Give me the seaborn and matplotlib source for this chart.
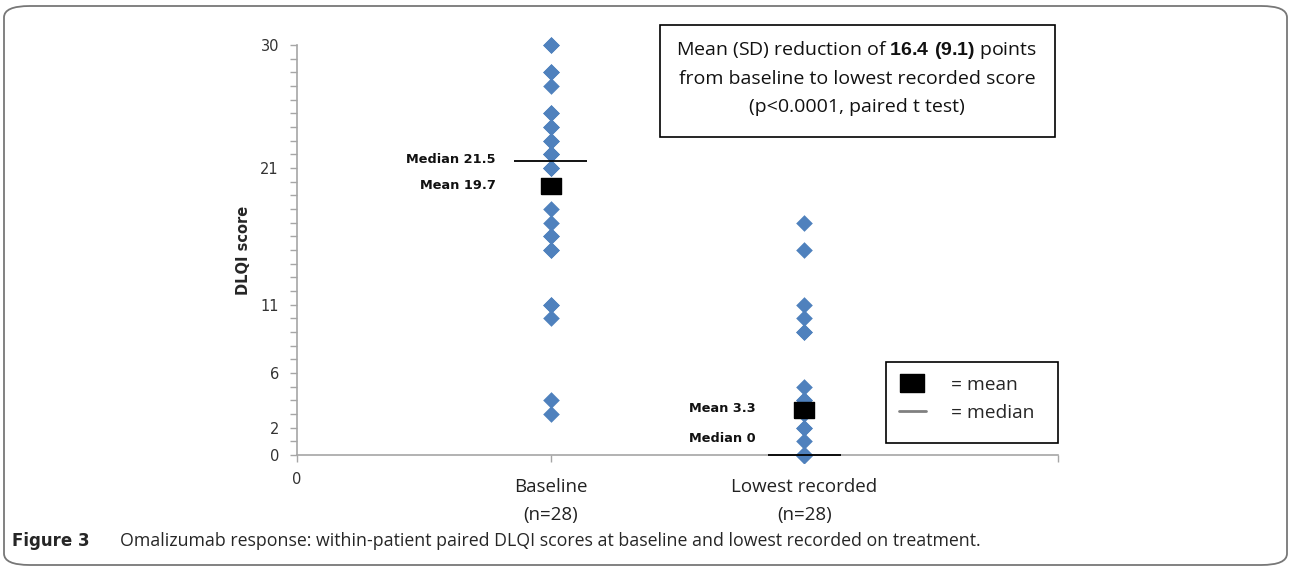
import numpy as np
import pandas as pd
import matplotlib
matplotlib.use("Agg")
import matplotlib.pyplot as plt
import seaborn as sns
from matplotlib.lines import Line2D
from matplotlib.patches import Rectangle, FancyBboxPatch

# datos (28 pacientes por grupo)
grupos = ["Baseline", "Lowest recorded"]
n_por_grupo = [28, 28]
dlqi_baseline = [30, 30, 28, 28, 27, 25, 25, 24, 24, 23, 23, 22, 22, 22,
                 21, 21, 21, 18, 17, 16, 16, 15, 15, 11, 11, 10, 4, 3]
dlqi_lowest = [17, 15, 11, 10, 9, 9, 5, 4, 4, 3, 2, 2, 1,
               0, 0, 0, 0, 0, 0, 0, 0, 0, 0, 0, 0, 0, 0, 0]
yticks_mayores = [0, 2, 6, 11, 21, 30]

df = pd.DataFrame({
    "grupo": ["Baseline"] * len(dlqi_baseline) + ["Lowest recorded"] * len(dlqi_lowest),
    "dlqi": dlqi_baseline + dlqi_lowest,
})
df["pos"] = df["grupo"].map({g: i + 1 for i, g in enumerate(grupos)})
resumen = df.groupby("grupo")["dlqi"].agg(["mean", "median"]).reindex(grupos)
resumen["pos"] = [i + 1 for i in range(len(grupos))]

sns.set_theme(style="white")
plt.rcParams["font.family"] = ["DejaVu Sans"]
plt.rcParams["mathtext.fontset"] = "custom"
plt.rcParams["mathtext.rm"] = "Open Sans"
plt.rcParams["mathtext.bf"] = "Liberation Sans:bold"

W, H = 1290, 570
fig = plt.figure(figsize=(W / 100, H / 100), dpi=100)
ax = fig.add_axes([297 / W, 1 - 455 / H, (1058 - 297) / W, (455 - 45) / H])

gris = "#A6A6A6"
azul = "#4F81BD"
rect_media = [(-1, -0.8), (1, -0.8), (1, 0.8), (-1, 0.8), (-1, -0.8)]

sns.scatterplot(data=df, x="pos", y="dlqi", ax=ax, marker="D", s=72, color=azul,
                edgecolor=azul, linewidth=0, clip_on=False, zorder=3, legend=False)

# medias (cuadrado negro) y medianas (linea)
ax.scatter(resumen["pos"], resumen["mean"], marker=rect_media, s=190, color="black",
           zorder=4, clip_on=False)
ax.hlines(resumen["median"], resumen["pos"] - 0.145, resumen["pos"] + 0.145,
          color="black", linewidth=1.3, zorder=5, clip_on=False)

ax.set_xlim(0, 3)
ax.set_ylim(0, 30)
ax.set_yticks(yticks_mayores)
ax.set_yticks(range(0, 31), minor=True)
ax.set_xticks([0, 1, 2, 3])
ax.set_xticklabels(["0", "", "", ""])
for s in ["top", "right"]:
    ax.spines[s].set_visible(False)
for s in ["left", "bottom"]:
    ax.spines[s].set_color(gris)
    ax.spines[s].set_linewidth(1.2)
ax.tick_params(axis="y", which="both", direction="out", length=5, width=1, color=gris,
               left=True, labelsize=10.5, labelcolor="#333333", pad=8)
ax.tick_params(axis="x", which="major", direction="out", length=5, width=1, color=gris,
               bottom=True, labelsize=10.5, labelcolor="#333333", pad=7)
ax.set_xlabel("")
ax.set_ylabel("DLQI score", fontsize=10.5, fontweight="bold", labelpad=7)

# etiquetas de categoria
for i, g in enumerate(grupos):
    ax.text(i + 1, -0.055, f"{g}\n(n={n_por_grupo[i]})", transform=ax.get_xaxis_transform(),
            ha="center", va="top", fontsize=13.5, family="Open Sans", linespacing=1.75,
            color="#222222")

# rotulos de media y mediana
estilo = dict(textcoords="offset pixels", ha="right", va="center", fontsize=9.3,
              fontweight="bold", family="DejaVu Sans", color="#111111")
for g, fila in resumen.iterrows():
    etiqueta_med = f"Median {fila['median']:g}"
    etiqueta_mean = f"Mean {fila['mean']:.1f}"
    if g == "Baseline":
        ax.annotate(etiqueta_med, (fila["pos"], fila["median"]), xytext=(-55, 2), **estilo)
        ax.annotate(etiqueta_mean, (fila["pos"], fila["mean"]), xytext=(-55, 0), **estilo)
    else:
        ax.annotate(etiqueta_mean, (fila["pos"], fila["mean"]), xytext=(-49, 2), **estilo)
        ax.annotate(etiqueta_med, (fila["pos"], fila["median"]), xytext=(-49, 17), **estilo)

# leyenda (marco dibujado aparte)
handles = [Line2D([], [], marker=rect_media, linestyle="none", color="black", markersize=17),
           Line2D([], [], color="#808080", linewidth=2)]
leg = fig.legend(handles, ["= mean", "= median"], loc="upper left",
                 bbox_to_anchor=(899 / W, 1 - 376 / H), frameon=False,
                 prop={"family": "Open Sans", "size": 13.8},
                 handlelength=1.4, handletextpad=1.3, borderpad=0, labelspacing=0.5,
                 borderaxespad=0)
fig.patches.append(Rectangle((886 / W, 1 - 443 / H), 172 / W, 81 / H, transform=fig.transFigure,
                             fill=False, edgecolor="black", linewidth=1.2))

# cuadro de texto
fig.patches.append(Rectangle((660 / W, 1 - 137 / H), 395 / W, 112 / H, transform=fig.transFigure,
                             fill=False, edgecolor="black", linewidth=1.2))
lineas = [r"Mean (SD) reduction of $\mathbf{16.4\ (9.1)}$ points",
          "from baseline to lowest recorded score",
          "(p<0.0001, paired t test)"]
for k, t in enumerate(lineas):
    fig.text(857 / W, 1 - (50 + 28.5 * k) / H, t, ha="center", va="center",
             fontsize=14, family="Open Sans", color="#111111")

# pie de figura y marco
fig.text(12 / W, 1 - 541 / H, "Figure 3", ha="left", va="center", fontsize=12,
         family="DejaVu Sans", fontweight="bold")
fig.text(120 / W, 1 - 541 / H,
         "Omalizumab response: within-patient paired DLQI scores at baseline and lowest recorded on treatment.",
         ha="left", va="center", fontsize=12.8, family="Open Sans")
fig.patches.append(FancyBboxPatch((4 / W, 5 / H), (W - 7) / W, (H - 11) / H,
                                  boxstyle="round,pad=0,rounding_size=0.02",
                                  transform=fig.transFigure, fill=False,
                                  edgecolor="#777777", linewidth=1.3))

fig.savefig("out.png", dpi=100)
